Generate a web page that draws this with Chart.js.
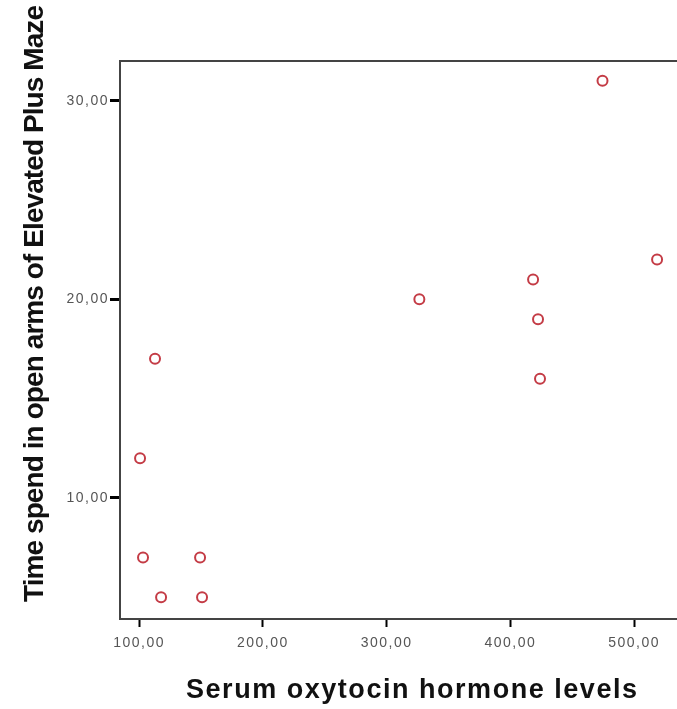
<!DOCTYPE html>
<html>
<head>
<meta charset="utf-8">
<script src="https://cdn.jsdelivr.net/npm/chart.js@4.4.1/dist/chart.umd.min.js"></script>
<style>
  body { margin: 0; background: #fff; }
  canvas { display: block; }
</style>
</head>
<body>
<canvas id="plot" width="677" height="709"></canvas>
<script>
// Values
const oxytocin = [474.5, 518.6, 418.4, 422.4, 424.0, 326.5, 112.9, 100.8, 103.2, 149.3, 117.8, 150.9];
const openArmTime = [31, 22, 21, 19, 16, 20, 17, 12, 7, 7, 5, 5];

const xTitle = 'Serum oxytocin hormone levels';
const yTitle = 'Time spend in open arms of Elevated Plus Maze';

const X_MIN = 84.6, X_MAX = 534.7;
const Y_MIN = 3.9, Y_MAX = 32.0;

const ctx = document.getElementById('plot').getContext('2d');

function commaFmt(v) {
    return v.toFixed(2).replace('.', ',');
}

// draw text stretched to a target width with letter spacing
function spacedText(c, txt, x, y, targetW) {
    c.letterSpacing = '0px';
    const w = c.measureText(txt).width;
    const sp = (targetW - w) / (txt.length - 1);
    c.letterSpacing = sp + 'px';
    c.fillText(txt, x, y);
    c.letterSpacing = '0px';
}

const titlesPlugin = {
    id: 'titles',
    beforeDraw(chart) {
        // tick labels in the picture are spaced out
        chart.ctx.letterSpacing = '1.5px';
    },
    afterDraw(chart) {
        const c = chart.ctx;
        c.save();
        c.fillStyle = '#111';
        c.textAlign = 'left';
        c.textBaseline = 'alphabetic';

        // x title
        c.font = 'bold 27px "Liberation Sans", Arial, sans-serif';
        spacedText(c, xTitle, 186, 698, 451);

        // y title, rotated
        c.translate(43, 602);
        c.rotate(-Math.PI / 2);
        c.font = 'bold 28px "Liberation Sans", Arial, sans-serif';
        spacedText(c, yTitle, 0, 0, 597);
        c.restore();
        c.letterSpacing = '0px';
    }
};

new Chart(ctx, {
    type: 'scatter',
    data: {
        datasets: [{
            label: 'points',
            data: oxytocin.map((v, i) => ({ x: v, y: openArmTime[i] })),
            pointStyle: 'circle',
            pointRadius: 5,
            pointHoverRadius: 5,
            borderWidth: 2,
            borderColor: '#c43c46',
            backgroundColor: 'rgba(0,0,0,0)'
        }]
    },
    options: {
        responsive: false,
        devicePixelRatio: 1,
        animation: false,
        layout: {
            autoPadding: false,
            padding: { top: 61, right: 0, left: 0, bottom: 0 }
        },
        plugins: {
            legend: { display: false },
            tooltip: { enabled: false }
        },
        scales: {
            x: {
                type: 'linear',
                position: 'bottom',
                min: X_MIN,
                max: X_MAX,
                afterFit(scale) {
                    scale.height = 90;
                    scale.paddingLeft = 0;
                    scale.paddingRight = 0;
                },
                border: { display: true, color: '#444', width: 2 },
                grid: {
                    display: true,
                    drawOnChartArea: false,
                    tickLength: 8,
                    tickWidth: 2,
                    tickColor: '#000'
                },
                ticks: {
                    stepSize: 100,
                    includeBounds: false,
                    padding: 8,
                    maxRotation: 0,
                    color: '#555',
                    font: { family: '"Liberation Sans", Arial, sans-serif', size: 14 },
                    callback: v => commaFmt(v)
                }
            },
            xTop: {
                type: 'linear',
                position: 'top',
                min: X_MIN,
                max: X_MAX,
                afterFit(scale) {
                    scale.height = 0;
                    scale.paddingLeft = 0;
                    scale.paddingRight = 0;
                },
                border: { display: true, color: '#444', width: 2 },
                grid: { display: false, drawTicks: false },
                ticks: { display: false }
            },
            y: {
                type: 'linear',
                position: 'left',
                min: Y_MIN,
                max: Y_MAX,
                afterFit(scale) {
                    scale.width = 120;
                    scale.paddingTop = 0;
                    scale.paddingBottom = 0;
                },
                border: { display: true, color: '#444', width: 2 },
                grid: {
                    display: true,
                    drawOnChartArea: false,
                    tickLength: 10,
                    tickWidth: 3,
                    tickColor: '#000'
                },
                ticks: {
                    stepSize: 10,
                    includeBounds: false,
                    padding: 1,
                    color: '#555',
                    font: { family: '"Liberation Sans", Arial, sans-serif', size: 14 },
                    callback: v => commaFmt(v)
                }
            }
        }
    },
    plugins: [titlesPlugin]
});
</script>
</body>
</html>
